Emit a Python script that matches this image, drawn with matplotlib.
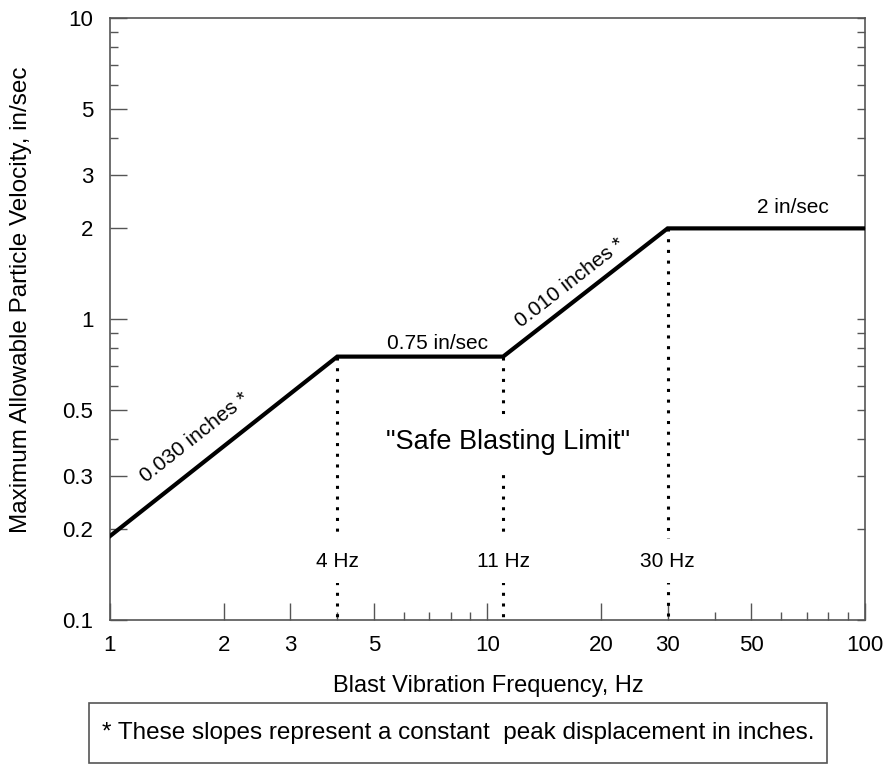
import numpy as np
import matplotlib.pyplot as plt
from matplotlib.patches import Rectangle

plt.rcParams['font.family'] = ['Liberation Sans', 'DejaVu Sans']

# limit curve (frequency in Hz, peak particle velocity in in/sec)
freq = [1, 4, 11, 30, 100]
ppv = [0.19, 0.75, 0.75, 2, 2]

# dotted drop lines at the break frequencies
breaks = [4, 11, 30]
break_ppv = [0.75, 0.75, 2]
break_labels = ['4 Hz', '11 Hz', '30 Hz']

x_major = [1, 2, 3, 5, 10, 20, 30, 50, 100]
x_major_labels = ['1', '2', '3', '5', '10', '20', '30', '50', '100']
x_minor = [4, 6, 7, 8, 9, 40, 60, 70, 80, 90]
y_major = [0.1, 0.2, 0.3, 0.5, 1, 2, 3, 5, 10]
y_major_labels = ['0.1', '0.2', '0.3', '0.5', '1', '2', '3', '5', '10']
y_minor = [0.4, 0.6, 0.7, 0.8, 0.9, 4, 6, 7, 8, 9]

W, H = 895, 766
fig = plt.figure(figsize=(W / 100, H / 100), dpi=100)
ax = fig.add_axes([110 / W, 146 / H, 755 / W, 602 / H])
ax.set_xscale('log')
ax.set_yscale('log')
ax.set_xlim(1, 100)
ax.set_ylim(0.1, 10)

ax.plot(freq, ppv, color='black', lw=3, solid_joinstyle='miter', zorder=4)
for f, v in zip(breaks, break_ppv):
    ax.plot([f, f], [v, 0.1], color='black', lw=2.2, ls=(0, (1, 2.5)), zorder=2)

hide = dict(boxstyle='square,pad=0.6', fc='white', ec='none')
for f, lab in zip(breaks, break_labels):
    ax.text(f, 0.157, lab, ha='center', va='center', fontsize=15, bbox=hide, zorder=3)

ax.text(11.3, 0.39, '"Safe Blasting Limit"', ha='center', va='center',
        fontsize=19.5, bbox=dict(boxstyle='square,pad=0.5', fc='white', ec='none'), zorder=3)


def slope_angle(i):
    p1 = ax.transData.transform((freq[i], ppv[i]))
    p2 = ax.transData.transform((freq[i + 1], ppv[i + 1]))
    return np.degrees(np.arctan2(p2[1] - p1[1], p2[0] - p1[0]))


ax.text(1.68, 0.405, '0.030 inches *', ha='center', va='center', fontsize=15,
        rotation=slope_angle(0), rotation_mode='anchor')
ax.text(16.5, 1.32, '0.010 inches *', ha='center', va='center', fontsize=15,
        rotation=slope_angle(2), rotation_mode='anchor')
ax.text(7.35, 0.83, '0.75 in/sec', ha='center', va='center', fontsize=15)
ax.text(64.5, 2.34, '2 in/sec', ha='center', va='center', fontsize=15)

# ticks
ax.set_xticks(x_major, x_major_labels)
ax.set_xticks(x_minor, minor=True)
ax.set_yticks(y_major, y_major_labels)
ax.set_yticks(y_minor, minor=True)
ax.xaxis.set_minor_formatter(plt.NullFormatter())
ax.yaxis.set_minor_formatter(plt.NullFormatter())
ax.tick_params(which='both', direction='in', color='#555555', width=1,
               labelsize=16, top=False, right=True)
ax.tick_params(axis='x', which='major', length=12, pad=11)
ax.tick_params(axis='x', which='minor', length=5.5)
ax.tick_params(axis='y', which='major', length=12, pad=12)
ax.tick_params(axis='y', which='minor', length=6)
for t in ax.yaxis.get_major_ticks() + ax.yaxis.get_minor_ticks():
    t.tick2line.set_markersize(5.5)

for s in ax.spines.values():
    s.set_color('#555555')
    s.set_linewidth(1.2)

ax.set_xlabel('Blast Vibration Frequency, Hz', fontsize=17)
ax.xaxis.set_label_coords(0.501, -0.0914)
ax.set_ylabel('Maximum Allowable Particle Velocity, in/sec', fontsize=17.5)
ax.yaxis.set_label_coords(-0.1033, 0.532)

# footnote box
fig.patches.append(Rectangle((89 / W, 3 / H), 738 / W, 60 / H, transform=fig.transFigure,
                             fill=False, ec='#555555', lw=1.2))
fig.text(458 / W, (H - 733) / H,
         '* These slopes represent a constant  peak displacement in inches.',
         ha='center', va='center', fontsize=17.5)

fig.savefig('out.png', dpi=100)
